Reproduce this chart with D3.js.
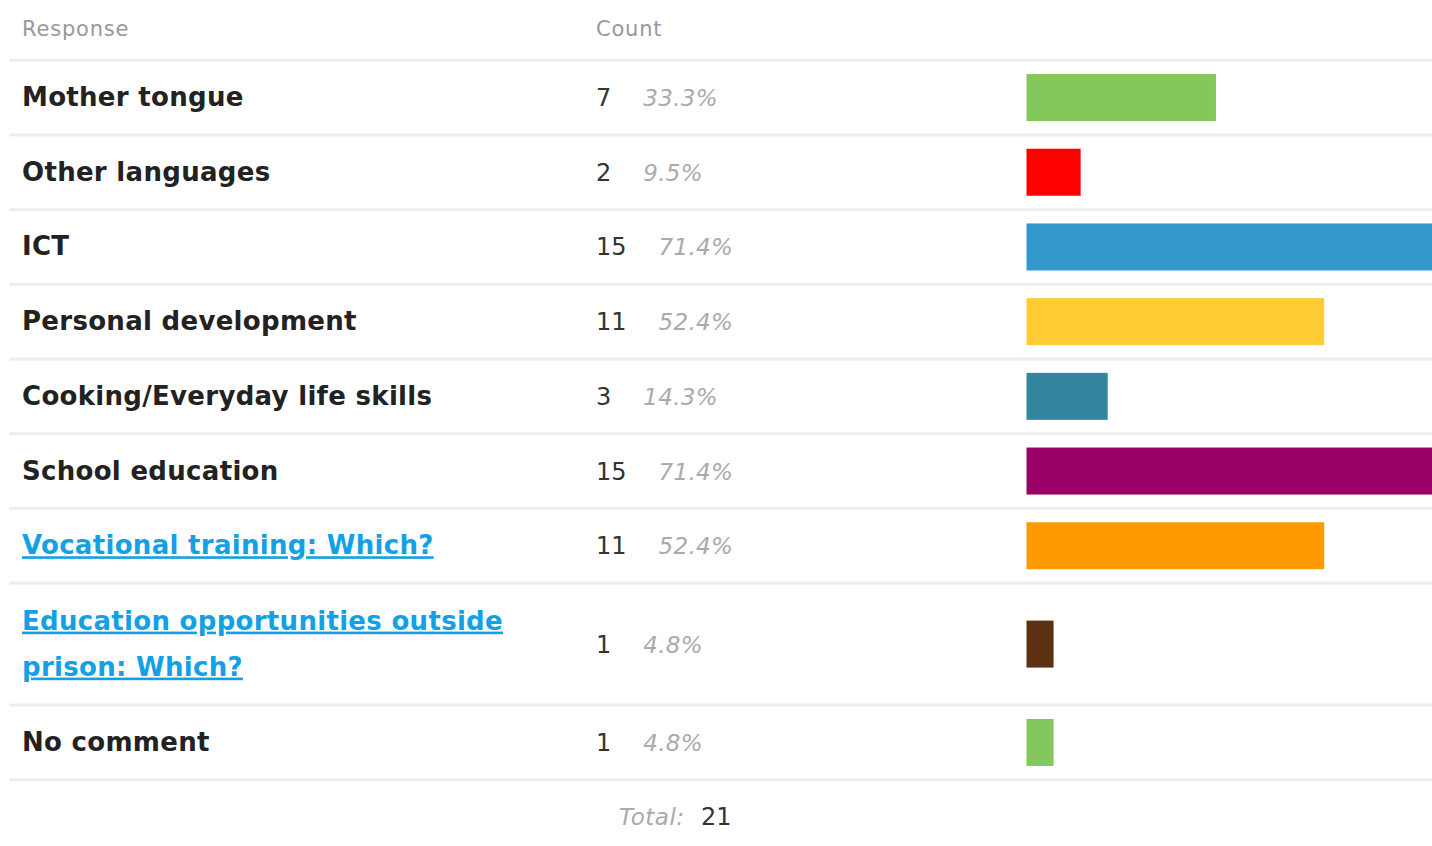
<!DOCTYPE html>
<html>
<head>
<meta charset="utf-8">
<script src="https://cdn.jsdelivr.net/npm/d3@7/dist/d3.min.js"></script>
<style>
  html, body { margin: 0; padding: 0; background: #fff; }
  svg { display: block; font-family: "DejaVu Sans", sans-serif; }
</style>
</head>
<body>
<svg id="chart" width="1432" height="846"></svg>
<script>
// ---- data ----
const responses = [
  "Mother tongue",
  "Other languages",
  "ICT",
  "Personal development",
  "Cooking/Everyday life skills",
  "School education",
  "Vocational training: Which?",
  "Education opportunities outside prison: Which?",
  "No comment"
];
const labelLines = [
  ["Mother tongue"],
  ["Other languages"],
  ["ICT"],
  ["Personal development"],
  ["Cooking/Everyday life skills"],
  ["School education"],
  ["Vocational training: Which?"],
  ["Education opportunities outside", "prison: Which?"],
  ["No comment"]
];
const isLink = [false, false, false, false, false, false, true, true, false];
const counts = [7, 2, 15, 11, 3, 15, 11, 1, 1];
const percents = ["33.3%", "9.5%", "71.4%", "52.4%", "14.3%", "71.4%", "52.4%", "4.8%", "4.8%"];
const barColors = ["#83c75d", "#ff0000", "#3398cc", "#ffcc33", "#33869e", "#990066", "#ff9900", "#5c3112", "#83c75d"];
const total = 21;
const headers = ["Response", "Count"];

// ---- layout ----
const svg = d3.select("#chart");
const W = 1432;
const lineColor = "#eeeeee";
const lineX0 = 9;
const headerLineTop = 58.7;
const lineH = 3;
const rowH = 71.7;
const lineGap = 46;

let rows = [];
let y = headerLineTop + lineH;
labelLines.forEach((ls, i) => {
  const h = rowH + (ls.length - 1) * 47.3;
  rows.push({ top: y, h: h, center: y + h / 2 });
  y += h + lineH;
});

const lineTops = [headerLineTop].concat(rows.map(r => r.top + r.h));
svg.selectAll("rect.sep").data(lineTops).join("rect")
  .attr("class", "sep")
  .attr("x", lineX0).attr("width", W - lineX0)
  .attr("y", d => d).attr("height", lineH)
  .attr("fill", lineColor);

svg.append("text").attr("x", 22).attr("y", 35.5)
  .attr("font-size", 21).attr("letter-spacing", 0.8).attr("fill", "#999")
  .text(headers[0]);
svg.append("text").attr("x", 596).attr("y", 35.5)
  .attr("font-size", 21).attr("letter-spacing", 0.8).attr("fill", "#999")
  .text(headers[1]);

const x = d3.scaleLinear().domain([0, d3.max(counts)]).range([0, 406]);
const barX = 1026.5;
const barH = 47;

const g = svg.selectAll("g.row").data(responses).join("g").attr("class", "row");

g.each(function (d, i) {
  const row = rows[i];
  const sel = d3.select(this);
  const ls = labelLines[i];
  const n = ls.length;
  ls.forEach((t, k) => {
    const cy = row.center + (k - (n - 1) / 2) * lineGap;
    sel.append("text")
      .attr("x", 22).attr("y", cy + 8.5)
      .attr("font-size", 26).attr("font-weight", "bold")
      .attr("letter-spacing", 0.3)
      .attr("fill", isLink[i] ? "#13a0e4" : "#222")
      .attr("text-decoration", isLink[i] ? "underline" : null)
      .text(t);
  });
  const ct = sel.append("text")
    .attr("x", 596).attr("y", row.center + 8.5)
    .attr("font-size", 24).attr("fill", "#333")
    .text(counts[i]);
  const cw = ct.node().getComputedTextLength();
  sel.append("text")
    .attr("x", 596 + cw + 32).attr("y", row.center + 8.5)
    .attr("font-size", 23).attr("font-style", "italic").attr("fill", "#aaa")
    .attr("letter-spacing", 0.3)
    .text(percents[i]);
  sel.append("rect")
    .attr("x", barX).attr("y", row.center - barH / 2)
    .attr("width", x(counts[i])).attr("height", barH)
    .attr("fill", barColors[i]);
});

const lastBottom = lineTops[lineTops.length - 1] + lineH;
svg.append("text").attr("x", 619).attr("y", lastBottom + 44)
  .attr("font-size", 23).attr("font-style", "italic").attr("fill", "#aaa")
  .attr("letter-spacing", 0.5)
  .text("Total:");
svg.append("text").attr("x", 701).attr("y", lastBottom + 44)
  .attr("font-size", 24).attr("fill", "#333")
  .text(total);
</script>
</body>
</html>
